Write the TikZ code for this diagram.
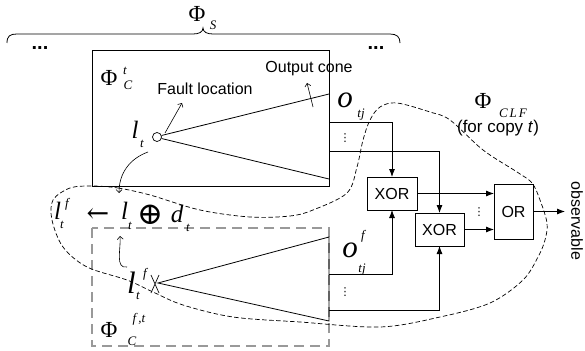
\documentclass[tikz,border=0pt]{standalone}
\usepackage{fontspec}
\setmainfont{Liberation Serif}
\newfontfamily\arialf{Liberation Sans}
\newfontfamily\dvserif{DejaVu Serif}
\newfontfamily\dvsans{DejaVu Sans}
\usetikzlibrary{arrows.meta}
\begin{document}
\begin{tikzpicture}[x=1pt,y=-1pt,
  every node/.style={inner sep=0pt, outer sep=0pt},
  lab/.style={font=\arialf\fontsize{16}{16}\selectfont},
  bigphi/.style={font=\fontsize{23}{23}\selectfont},
  var/.style={font=\itshape\fontsize{25}{25}\selectfont},
  scr/.style={font=\itshape\fontsize{13}{13}\selectfont},
  vdot/.style={font=\dvsans\fontsize{11}{11}\selectfont},
  gate/.style={draw, line width=0.8pt, font=\arialf\fontsize{16}{16}\selectfont},
  wire/.style={line width=0.8pt},
  arr/.style={wire, -{Latex[length=8pt,width=6pt]}},
  thinarr/.style={line width=0.6pt, -{Straight Barb[length=3pt,width=6pt]}},
  cloud/.style={dash pattern=on 4.5pt off 2.5pt, line width=0.7pt},
  graybox/.style={draw=black!40, dash pattern=on 10pt off 6pt, line width=1.1pt},
]
\useasboundingbox (0,0) rectangle (585,350);

% brace and Phi_S
\draw[wire] (7,43) .. controls (7,36) and (10,34) .. (17,34) -- (193,34)
  .. controls (199,34) and (203,32) .. (203,28)
  .. controls (203,32) and (207,34) .. (213,34) -- (390,34)
  .. controls (397,34) and (400,37) .. (400,43);
\node[bigphi] (phiS) at (197,14) {Φ};
\node[scr] (phiSs) at (213,25) {S};
\node[font=\arialf\bfseries\fontsize{20}{20}\selectfont] (dl) at (40,48) {...};
\node[font=\arialf\bfseries\fontsize{20}{20}\selectfont] (dr) at (376,48) {...};

% dashed lower box
\draw[graybox] (92,228) rectangle (329,346);

% top box
\draw[wire] (92,50) rectangle (329,186);
\node[bigphi] (phiC) at (109,78) {Φ};
\node[scr] (phiCt) at (125,71) {t};
\node[scr] (phiCc) at (128,85) {C};
\node[lab] (fault) at (205,89) {Fault location};
\node[lab] (ocone) at (309,69) {Output cone};

% top cone
\node[draw, circle, line width=0.7pt, minimum size=9pt] (lt) at (157,137) {};
\draw[wire] (161.5,135.5) -- (329,94);
\draw[wire] (161.5,138.5) -- (329,179);
\node[var] (ltl) at (135,130) {l};
\node[scr] (ltt) at (142,144) {t};
\draw[thinarr] (165,133) -- (182,103);
\draw[thinarr] (313,107) -- (307,83);
\node[font=\itshape\fontsize{31}{31}\selectfont] (o1) at (345,100) {o};
\node[scr] (o1s) at (361,115) {tj};
\node[vdot] (vd1) at (345,138) {⋮};

% equation
\node[var] (eql) at (57.5,210.5) {l};
\node[scr] (eqf) at (67,204) {f};
\node[scr] (eqt) at (62,225) {t};
\node[font=\dvserif\fontsize{27}{27}\selectfont] (eqar) at (98,215) {←};
\node[var] (eql2) at (124.5,210.5) {l};
\node[scr] (eqt2) at (130,226) {t};
\node[font=\dvserif\fontsize{31}{31}\selectfont] (eqop) at (150,215) {⊕};
\node[var] (eqd) at (177,214) {d};
\node[scr] (eqt3) at (188,228) {t};
\draw[thinarr] (148,152) to[out=200,in=90] (119,193);

% bottom cone
\draw[wire] (158,283) -- (329,237) -- (329,321) -- cycle;
\draw[line width=0.7pt] (151,275) -- (159,293) (151,293) -- (159,275);
\node[font=\itshape\fontsize{31}{31}\selectfont] (lfl) at (131.5,283) {l};
\node[scr] (lff) at (145,274) {f};
\node[scr] (lft) at (138,296) {t};
\draw[thinarr] (127,267) to[out=190,in=-85] (120,236);
\node[bigphi] (phiCf) at (109,330) {Φ};
\node[scr] (phiCfs) at (139,319) {f\,,t};
\node[scr] (phiCfc) at (132,341) {C};
\node[font=\itshape\fontsize{31}{31}\selectfont] (o2) at (350,250) {o};
\node[scr] (o2f) at (363,236) {f};
\node[scr] (o2s) at (362,270) {tj};
\node[vdot] (vd2) at (345,292) {⋮};

% gates
\node[gate, minimum width=50pt, minimum height=33pt] (xor1) at (392,193.5) {XOR};
\node[gate, minimum width=49pt, minimum height=33pt] (xor2) at (439.5,229.5) {XOR};
\node[gate, minimum width=39pt, minimum height=55pt] (orb) at (513.5,211.5) {OR};
\node[vdot] (vd3) at (479,212) {⋮};

\coordinate (t1) at (329,122);
\coordinate (t2) at (329,151);
\coordinate (b1) at (329,274);
\coordinate (b2) at (329,310);
\coordinate (outp) at (565,211.5);
\draw[arr] (t1) -| (xor1.north);
\draw[arr] (t2) -| (xor2.north);
\draw[arr] (b1) -| (xor1.south);
\draw[arr] (b2) -| (xor2.south);
\draw[arr] (xor1.east) -- (xor1.east -| orb.west);
\draw[arr] (xor2.east) -- (xor2.east -| orb.west);
\draw[arr] (orb.east) -- (outp);
\node[lab, rotate=-90] (obs) at (577,221) {observable};

% CLF region
\draw[cloud] plot[smooth cycle, tension=0.55] coordinates {
 (92,186) (118,188) (150,195) (200,210) (250,217) (290,216) (313,210)
 (347,193) (357,167) (363,140) (370,120) (380,107) (397,103) (430,112)
 (450,120) (483,150) (517,172) (532,183) (540,200) (547,223) (545,240)
 (538,257) (523,280) (490,303) (440,317) (380,327) (300,322) (233,317)
 (183,305) (153,292) (127,280) (87,267) (63,247) (52,220) (53,200) (70,188)};
\node[bigphi] (phiL) at (483,101) {Φ};
\node[font=\itshape\fontsize{13}{13}\selectfont] (phiLs) at (513,113) {C\kern2pt L\kern2pt F};
\node[lab, font=\arialf\fontsize{17}{17}\selectfont] (copy) at (498,128) {(for copy \textit{t})};
\end{tikzpicture}
\end{document}
